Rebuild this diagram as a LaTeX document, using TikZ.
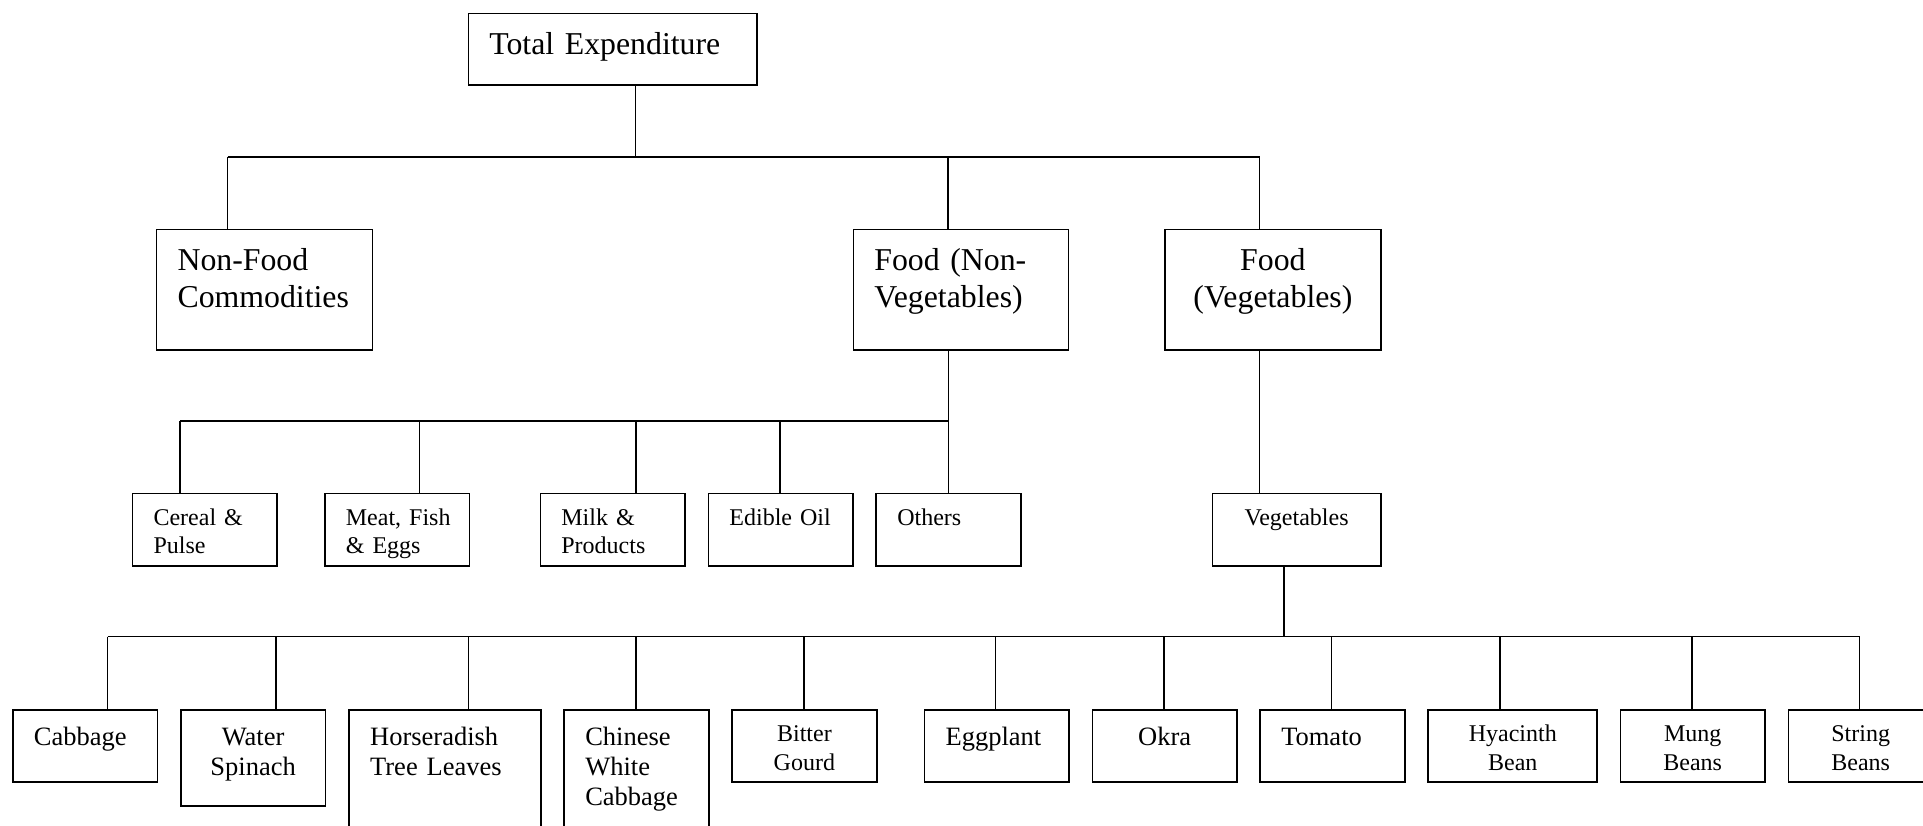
\documentclass[tikz,border=0pt]{standalone}
\usepackage{fontspec}
\setmainfont{Liberation Serif}

\begin{document}
\begin{tikzpicture}
        [every node/.style={draw, line width=0.48pt, anchor=north west, inner xsep=0.21cm, inner ysep=0pt, align=left},
         big/.style={font=\fontsize{9.05}{10.64}\selectfont, text height=0.41cm},
         mid/.style={font=\fontsize{7.54}{8.54}\selectfont, text height=0.362cm, text depth=0.36cm, text width=1.025cm},
         small/.style={font=\fontsize{6.83}{8.02}\selectfont, text height=0.322cm, text depth=0.4cm, text width=1.025cm},
         every path/.style={line width=0.42pt}]

        \useasboundingbox (0,0) rectangle (19.23,-8.25);

        \node[big, text width=2.465cm, text depth=0.306cm] (total) at (4.675,-0.127) {Total Expenditure};

        \node[big, text width=1.74cm, text depth=0.793cm] (nonfood) at (1.557,-2.287) {Non-Food\\Commodities};
        \node[big, text width=1.73cm, text depth=0.793cm] (foodnv) at (8.525,-2.287) {Food (Non-\\Vegetables)};
        \node[big, text width=1.743cm, text depth=0.793cm, align=center] (foodveg) at (11.639,-2.287) {Food\\(Vegetables)};

        \node[small] (cereal) at (1.317,-4.927) {Cereal \&\\Pulse};
        \node[small] (meat) at (3.24,-4.927) {Meat,~Fish\\\& Eggs};
        \node[small] (milk) at (5.395,-4.927) {Milk \&\\Products};
        \node[small] (oil) at (7.076,-4.927) {Edible~Oil};
        \node[small] (others) at (8.754,-4.927) {Others};
        \node[small, text width=1.263cm, align=center] (veg) at (12.116,-4.927) {Vegetables};

        \node[mid] (cabbage) at (0.12,-7.088) {Cabbage};
        \node[mid, text depth=0.6cm, align=center] (spinach) at (1.80,-7.088) {Water\\Spinach};
        \node[mid, text width=1.497cm, text depth=1.24cm] (horse) at (3.483,-7.088) {Horseradish\\Tree Leaves};
        \node[mid, text depth=1.24cm] (chinese) at (5.634,-7.088) {Chinese\\White\\Cabbage};
        \node[small, align=center] (bitter) at (7.313,-7.088) {Bitter\\Gourd};
        \node[mid] (eggplant) at (9.237,-7.088) {Eggplant};
        \node[mid, align=center] (okra) at (10.915,-7.088) {Okra};
        \node[mid] (tomato) at (12.594,-7.088) {Tomato};
        \node[small, text width=1.27cm, align=center] (hyacinth) at (14.274,-7.088) {Hyacinth\\Bean};
        \node[small, align=center] (mung) at (16.196,-7.088) {Mung\\Beans};
        \node[small, align=center] (string) at (17.876,-7.088) {String\\Beans};

        % top bar
        \coordinate (t-total) at (6.357,-1.57);
        \draw (t-total |- total.south) -- (t-total);
        \foreach \n/\x in {nonfood/2.277, foodnv/9.48, foodveg/12.596}
          {\coordinate (t-\n) at (\x,-1.57);
           \draw (t-\n) -- (t-\n |- \n.north);}
        \draw (t-nonfood) -- (t-foodveg);

        % middle bar
        \draw (others.north |- foodnv.south) -- (others.north);
        \foreach \n/\x in {cereal/1.80, meat/4.197, milk/6.359, oil/7.799}
          {\coordinate (m-\n) at (\x,-4.21);
           \draw (m-\n) -- (m-\n |- \n.north);}
        \draw (m-cereal) -- (others.north |- m-cereal);
        \draw (t-foodveg |- foodveg.south) -- (t-foodveg |- veg.north);

        % bottom bar
        \coordinate (b-veg) at (12.839,-6.367);
        \draw (b-veg |- veg.south) -- (b-veg);
        \foreach \n/\x in {cabbage/1.077, spinach/2.758, horse/4.683, chinese/6.359, bitter/8.04, eggplant/9.955, okra/11.638, tomato/13.317, hyacinth/14.998, mung/16.92, string/18.596}
          {\coordinate (b-\n) at (\x,-6.367);
           \draw (b-\n) -- (b-\n |- \n.north);}
        \draw (b-cabbage) -- (b-string);

      \end{tikzpicture}
\end{document}
